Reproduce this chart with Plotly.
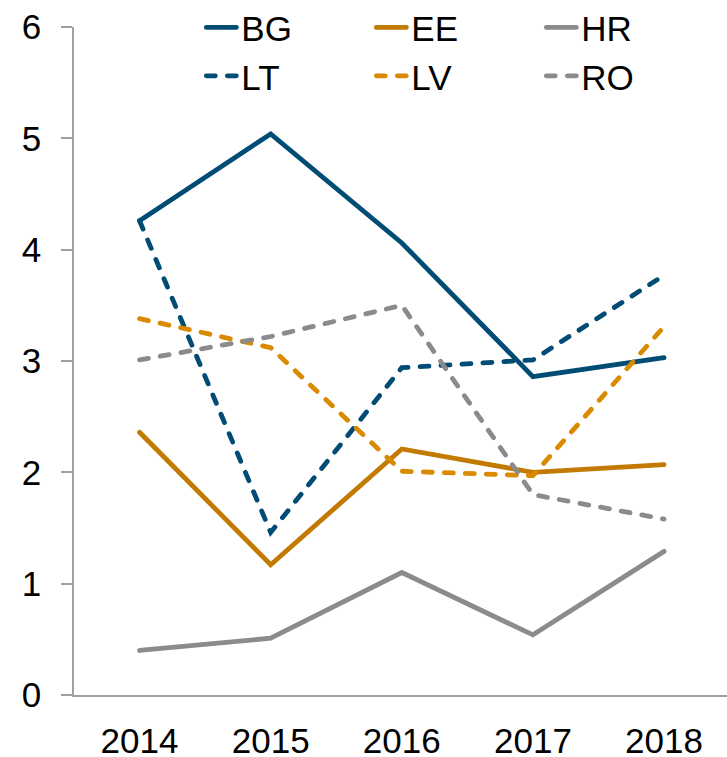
import plotly.graph_objects as go

years = ["2014", "2015", "2016", "2017", "2018"]
BG = [4.26, 5.04, 4.06, 2.86, 3.03]
EE = [2.36, 1.17, 2.21, 2.00, 2.07]
HR = [0.40, 0.51, 1.10, 0.54, 1.29]
LT = [4.26, 1.46, 2.94, 3.01, 3.77]
LV = [3.38, 3.12, 2.01, 1.97, 3.31]
RO = [3.01, 3.22, 3.50, 1.80, 1.58]

BLUE = "#004C74"
ORANGE = "#C27A00"
ORANGE2 = "#DA8A00"
GREY = "#8B8B8E"

FONT = "Liberation Sans, Arial, sans-serif"
DASH = "9px,12px"

series = [
    ("BG", BG, BLUE, "solid", "legend"),
    ("EE", EE, ORANGE, "solid", "legend"),
    ("HR", HR, GREY, "solid", "legend"),
    ("LT", LT, BLUE, DASH, "legend2"),
    ("LV", LV, ORANGE2, DASH, "legend2"),
    ("RO", RO, GREY, DASH, "legend2"),
]

fig = go.Figure()
for name, vals, col, dash, leg in series:
    fig.add_trace(go.Scatter(
        x=years, y=vals, name=name, mode="lines", legend=leg,
        line=dict(color=col, width=4.8, dash=dash),
    ))

legend_common = dict(
    orientation="h", xanchor="left", yanchor="middle",
    entrywidth=125, entrywidthmode="pixels",
    font=dict(family=FONT, size=35, color="black"),
    bgcolor="rgba(0,0,0,0)",
)

fig.update_layout(
    width=727, height=757,
    margin=dict(l=74, r=0, t=27, b=62, autoexpand=False),
    paper_bgcolor="white", plot_bgcolor="white",
    font=dict(family=FONT, size=35, color="black"),
    showlegend=True,
    legend=dict(x=0.195, y=0.999, **legend_common),
    legend2=dict(x=0.195, y=0.9265, **legend_common),
    xaxis=dict(
        type="category", range=[-0.5, 4.48],
        showgrid=False, zeroline=False,
        showline=True, linecolor="#A0A0A0", linewidth=1.5,
        ticks="", ticklabelstandoff=14,
        tickfont=dict(family=FONT, size=35, color="black"),
    ),
    yaxis=dict(
        range=[0, 6], dtick=1, tick0=0,
        showgrid=False, zeroline=False,
        showline=True, linecolor="#A0A0A0", linewidth=1.5,
        ticks="outside", ticklen=11, tickcolor="#A0A0A0", tickwidth=1.5,
        ticklabelstandoff=13,
        tickfont=dict(family=FONT, size=35, color="black"),
    ),
)

post = """
document.body.style.margin='0';document.body.style.padding='0';
document.querySelectorAll('path.js-line').forEach(function(p){
  p.style.strokeLinecap='round';
});
"""

fig.write_html(
    "out.html",
    config={"displayModeBar": False},
    post_script=post,
)
